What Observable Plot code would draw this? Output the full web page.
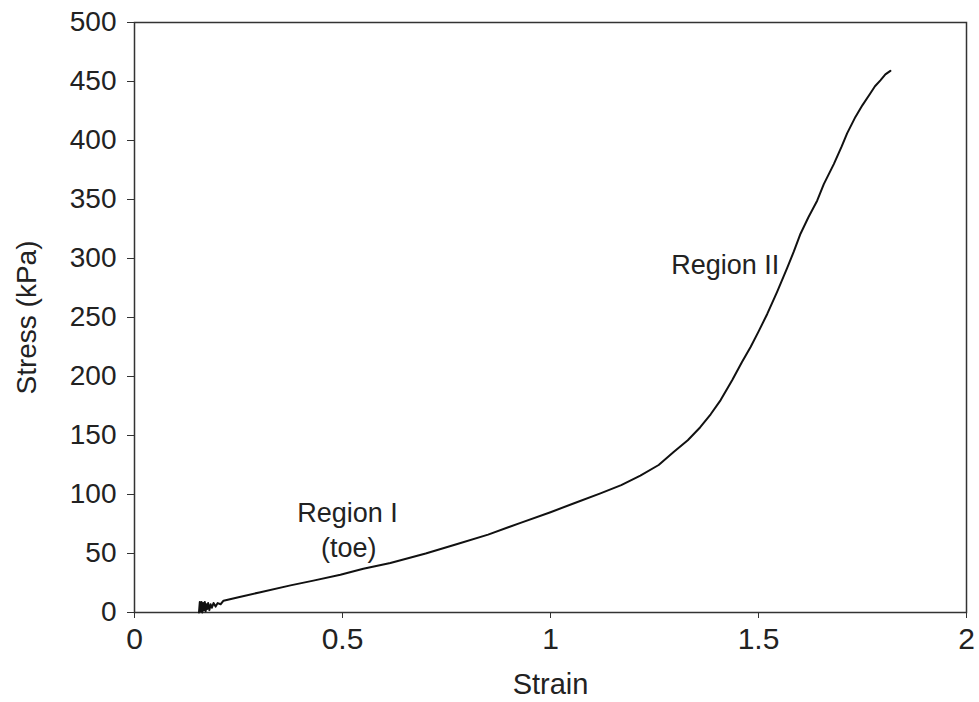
<!DOCTYPE html>
<html>
<head>
<meta charset="utf-8">
<script src="https://cdn.jsdelivr.net/npm/d3@7"></script>
<script src="https://cdn.jsdelivr.net/npm/@observablehq/plot@0.6"></script>
<style>
  html, body { margin: 0; padding: 0; background: #fff; }
  #chart svg { display: block; }
</style>
</head>
<body>
<div id="chart"></div>
<script>
const strain = [0.155, 0.157, 0.159, 0.161, 0.163, 0.165, 0.167, 0.169, 0.171, 0.173, 0.175, 0.177, 0.180, 0.183, 0.186, 0.190, 0.195, 0.200, 0.207, 0.214, 0.25, 0.30, 0.375, 0.43, 0.495, 0.55, 0.615, 0.70, 0.776, 0.85, 0.928, 1.0, 1.06, 1.12, 1.17, 1.216, 1.26, 1.296, 1.33, 1.36, 1.385, 1.409, 1.437, 1.46, 1.481, 1.50, 1.521, 1.545, 1.569, 1.585, 1.601, 1.62, 1.641, 1.657, 1.681, 1.70, 1.713, 1.733, 1.75, 1.769, 1.78, 1.793, 1.805, 1.817];
const stress = [0, 9, 1, 9, 0, 8, 2, 9, 1, 7, 3, 8, 2, 7, 4, 8, 5, 8, 7, 10, 13, 17, 23, 27, 32, 37, 42, 50, 58, 66, 76, 85, 93, 101, 108, 116, 125, 136, 146, 157, 168, 180, 197, 212, 225, 238, 253, 272, 292, 306, 321, 335, 349, 363, 380, 395, 406, 420, 430, 440, 446, 451, 456, 459];
const labels = [
  {text: "Region I", x: 0.512, y: 84},
  {text: "(toe)", x: 0.515, y: 54},
  {text: "Region II", x: 1.42, y: 294}
];
const xTicks = [0, 0.5, 1, 1.5, 2];
const yTicks = [0, 50, 100, 150, 200, 250, 300, 350, 400, 450, 500];

const data = strain.map((s, i) => ({strain: s, stress: stress[i]}));

const chart = Plot.plot({
  width: 979,
  height: 702,
  marginLeft: 134,
  marginRight: 13,
  marginTop: 22,
  marginBottom: 90,
  style: {fontFamily: "'Liberation Sans', Arial, sans-serif", color: "#222", background: "#fff"},
  x: {domain: [0, 2]},
  y: {domain: [0, 500]},
  marks: [
    Plot.axisY({ticks: yTicks, tickSize: 7, tickPadding: 11, fontSize: 28, tickFormat: d => String(d),
      stroke: "#333", label: null}),
    Plot.axisX({ticks: xTicks, tickSize: 6, tickPadding: 9, fontSize: 30, tickFormat: d => String(d),
      stroke: "#333", label: null}),
    Plot.frame({stroke: "#333", strokeWidth: 1.5}),
    Plot.line(data, {x: "strain", y: "stress", stroke: "#111", strokeWidth: 2}),
    Plot.text(labels, {x: "x", y: "y", text: "text", fontSize: 27, fill: "#222"}),
    Plot.text(["Strain"], {frameAnchor: "bottom", dy: 81, fontSize: 29, fill: "#222"}),
    Plot.text(["Stress (kPa)"], {frameAnchor: "left", textAnchor: "middle", dx: -107, rotate: -90, fontSize: 28, fill: "#222"})
  ]
});
document.getElementById("chart").append(chart);
</script>
</body>
</html>
